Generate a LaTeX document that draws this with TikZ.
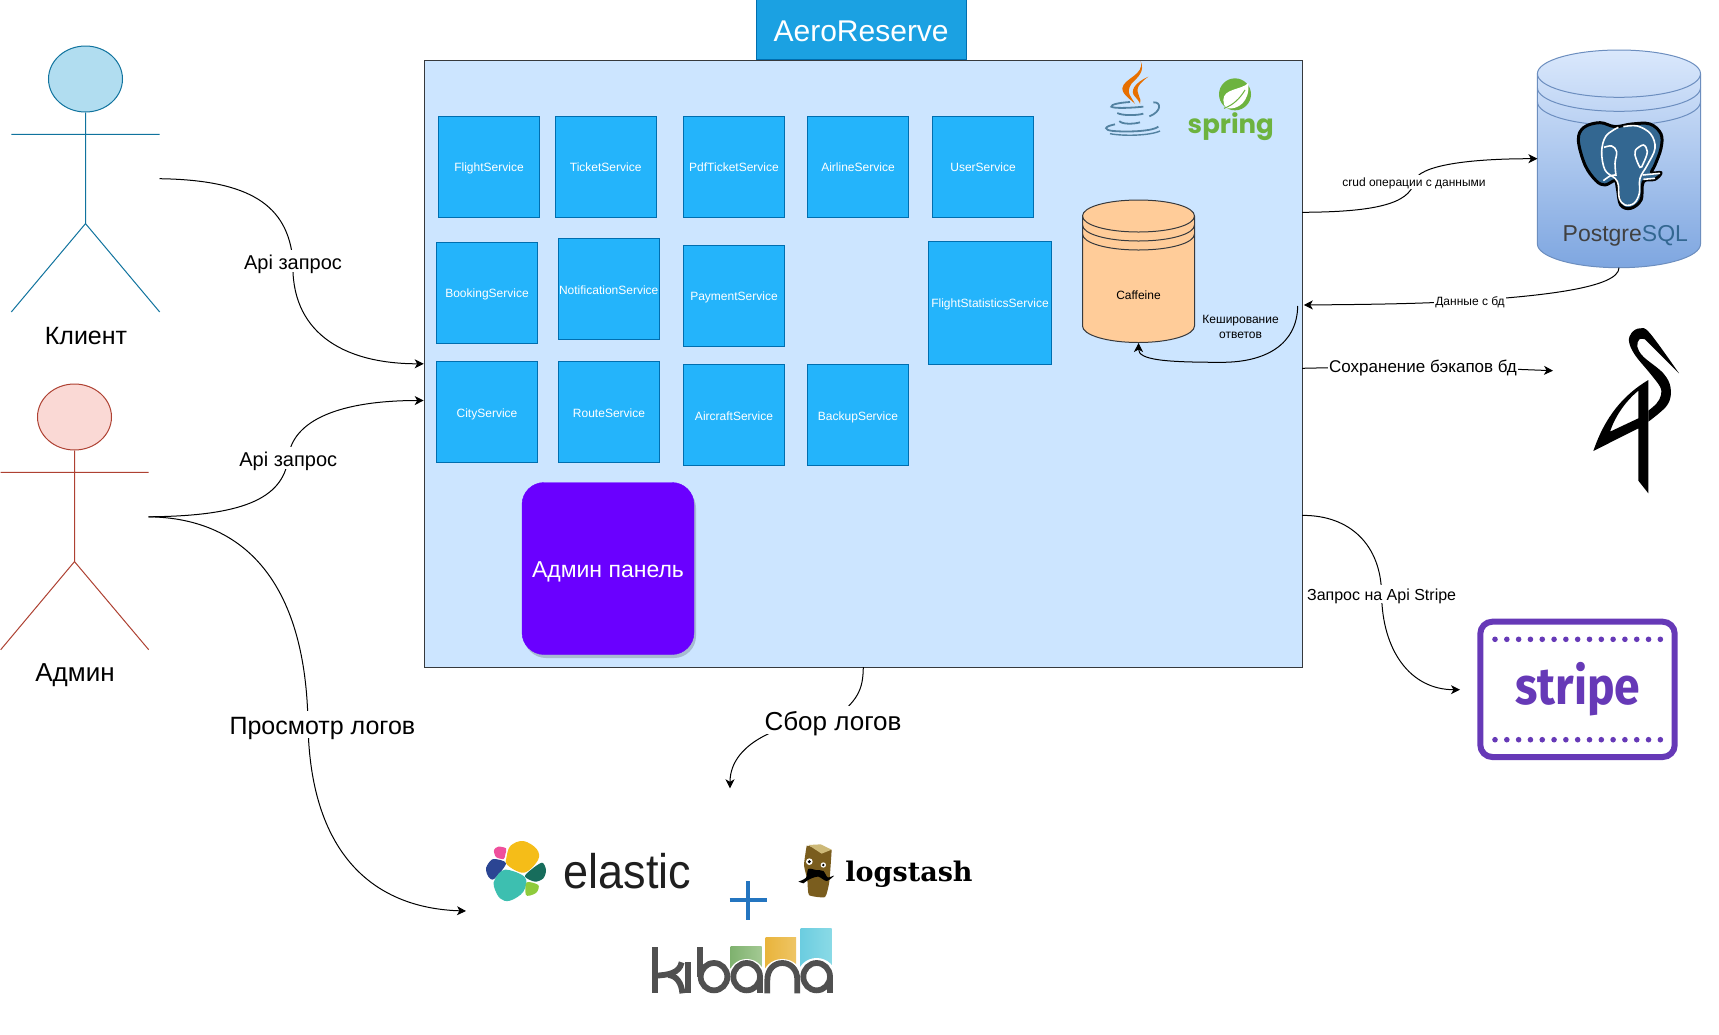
\documentclass[tikz,border=0pt]{standalone}
\usepackage{fontspec}
\setmainfont{Liberation Sans}
\newfontfamily\stripefont{Fira Sans}
\newfontfamily\slabfont{DejaVu Serif}
\newfontfamily\springfont{Poppins}
\usetikzlibrary{arrows.meta,shapes.geometric}
\definecolor{mainfill}{HTML}{CCE5FF}
\definecolor{mainline}{HTML}{36393D}
\definecolor{svcfill}{HTML}{24B4FB}
\definecolor{svcline}{HTML}{006EAF}
\definecolor{aerofill}{HTML}{1BA1E2}
\definecolor{adminfill}{HTML}{6A00FF}
\definecolor{cafffill}{HTML}{FFCC99}
\definecolor{pgline}{HTML}{6C8EBF}
\definecolor{pgtop}{HTML}{DAE8FC}
\definecolor{pgbot}{HTML}{7EA6E0}
\definecolor{pgblue}{HTML}{336791}
\definecolor{strcol}{HTML}{6639B7}
\definecolor{javablue}{HTML}{5382A1}
\definecolor{javaor}{HTML}{E76F00}
\definecolor{springg}{HTML}{6DB33F}
\definecolor{kibdark}{HTML}{505050}
\definecolor{elpink}{HTML}{EF4F9C}
\definecolor{elyel}{HTML}{F5BD18}
\definecolor{elblue}{HTML}{2B4593}
\definecolor{elteal}{HTML}{3DBFB0}
\definecolor{eldark}{HTML}{176D5C}
\definecolor{ellime}{HTML}{8FCB3C}
\definecolor{logbrown}{HTML}{7A5D1E}
\definecolor{logtop}{HTML}{CDB978}
\definecolor{plusblue}{HTML}{2475C0}
\definecolor{kgA}{HTML}{7FB26F}
\definecolor{kgB}{HTML}{A3C993}
\definecolor{kyA}{HTML}{E9B43C}
\definecolor{kyB}{HTML}{EEC565}
\definecolor{kcA}{HTML}{6CCDE0}
\definecolor{kcB}{HTML}{8ADAE6}
\definecolor{clfill}{HTML}{B1DDF0}
\definecolor{clline}{HTML}{10739E}
\definecolor{adfill}{HTML}{FAD9D5}
\definecolor{adline}{HTML}{AE4132}
\newcommand{\fsz}[1]{\fontsize{#1}{#1}\selectfont}
\tikzset{
  txt/.style={font=\fsz{#1},text height=0.9*#1pt,text depth=0.1*#1pt},
  svc/.style={draw=svcline,fill=svcfill,line width=1pt,text=white,inner sep=0pt,minimum width=101pt,minimum height=101pt,txt=12},
  conn/.style={draw=black,line width=1pt,-{Stealth[length=9pt,width=9pt,inset=2.5pt]}},
  lbl/.style={fill=white,inner sep=1pt,text=black},
  kib/.style={draw=kibdark,line width=5.8pt,line cap=butt},
  zoomed/.style={shift={#1},x=0.33333pt,y=-0.33333pt},
}
\begin{document}
\begin{tikzpicture}[x=1pt,y=-1pt]
\useasboundingbox (0,0) rectangle (1719,1034);
\fill[white] (0,0) rectangle (1719,1034);

% main container
\node[draw=mainline,fill=mainfill,line width=1pt,inner sep=0pt,minimum width=878.5pt,minimum height=607pt,anchor=north west] (main) at (423.7,60) {};
\node[draw=svcline,fill=aerofill,line width=1pt,inner sep=0pt,text=white,minimum width=209.7pt,minimum height=60pt,anchor=north west,txt=30] (aero) at (755.8,-0.8) {AeroReserve};

% services
\node[svc] (flight) at (489,166.6) {FlightService};
\node[svc] (ticket) at (605.7,166.6) {TicketService};
\node[svc] (pdf) at (734,166.6) {PdfTicketService};
\node[svc] (airline) at (858,166.6) {AirlineService};
\node[svc] (user) at (983,166.6) {UserService};
\node[svc] (booking) at (487,292.5) {BookingService};
\node[svc] (notif) at (608.7,289.3) {NotificationService};
\node[svc] (payment) at (734,295.5) {PaymentService};
\node[svc,minimum width=122.5pt,minimum height=123pt] (fstat) at (990,303) {FlightStatisticsService};
\node[svc] (city) at (487,412.3) {CityService};
\node[svc] (route) at (609,412.3) {RouteService};
\node[svc] (aircraft) at (734,415.3) {AircraftService};
\node[svc] (backup) at (858,415.3) {BackupService};

% admin panel
\fill[black,opacity=.18,rounded corners=22pt] (524,486) rectangle (696,658);
\node[draw=adminfill,fill=adminfill,rounded corners=22pt,minimum width=172pt,minimum height=172pt,inner sep=0pt,text=white,txt=23] (adminp) at (608,568.5) {Админ панель};

% caffeine cylinder
\draw[draw=mainline,fill=cafffill,line width=1pt] (1082.5,216) .. controls (1082.5,207) and (1107,200) .. (1138.5,200) .. controls (1170,200) and (1194.5,207) .. (1194.5,216) -- (1194.5,326) .. controls (1194.5,335) and (1170,342.5) .. (1138.5,342.5) .. controls (1107,342.5) and (1082.5,335) .. (1082.5,326) -- cycle;
\draw[mainline,line width=1pt] (1082.5,216) .. controls (1082.5,225) and (1107,232) .. (1138.5,232) .. controls (1170,232) and (1194.5,225) .. (1194.5,216);
\draw[mainline,line width=1pt] (1082.5,225) .. controls (1082.5,234) and (1107,241) .. (1138.5,241) .. controls (1170,241) and (1194.5,234) .. (1194.5,225);
\draw[mainline,line width=1pt] (1082.5,234) .. controls (1082.5,243) and (1107,250) .. (1138.5,250) .. controls (1170,250) and (1194.5,243) .. (1194.5,234);
\node[txt=12,inner sep=0pt] (caff) at (1138.5,294.5) {Caffeine};
\coordinate (caffb) at (1138.5,343);

% postgres cylinder
\shade[top color=pgtop,bottom color=pgbot,draw=pgline,line width=1pt] (1537.4,73.7) .. controls (1537.4,60.5) and (1574,50) .. (1619,50) .. controls (1664,50) and (1700.5,60.5) .. (1700.5,73.7) -- (1700.5,244) .. controls (1700.5,257) and (1664,267.7) .. (1619,267.7) .. controls (1574,267.7) and (1537.4,257) .. (1537.4,244) -- cycle;
\draw[pgline,line width=1pt] (1537.4,73.7) .. controls (1537.4,87) and (1574,97.3) .. (1619,97.3) .. controls (1664,97.3) and (1700.5,87) .. (1700.5,73.7);
\draw[pgline,line width=1pt] (1537.4,87.7) .. controls (1537.4,101) and (1574,111.3) .. (1619,111.3) .. controls (1664,111.3) and (1700.5,101) .. (1700.5,87.7);
\draw[pgline,line width=1pt] (1537.4,101.7) .. controls (1537.4,115) and (1574,125.3) .. (1619,125.3) .. controls (1664,125.3) and (1700.5,115) .. (1700.5,101.7);
\coordinate (pgl) at (1537.4,158.7);
\coordinate (pgb) at (1619,267.7);

% elephant
\begin{scope}[zoomed={(1560,110)}]
\filldraw[fill=pgblue,draw=black,line width=3pt,line join=round] plot[smooth cycle,tension=.6] coordinates {(55,90) (72,52) (120,38) (165,50) (215,42) (270,42) (303,72) (303,115) (285,165) (275,188) (303,188) (285,208) (250,215) (243,270) (212,295) (182,285) (172,235) (165,212) (135,225) (108,212) (75,165)};
\draw[white,line width=1.6pt,line join=round] plot[smooth,tension=.6] coordinates {(175,52) (138,78) (125,125) (135,180) (165,205) (175,225) (178,265) (195,285) (222,280) (238,250) (240,205) (262,165) (285,115) (272,72) (232,48) (190,50)};
\draw[white,line width=1.6pt] plot[smooth,tension=.6] coordinates {(132,112) (155,108) (170,125) (165,160) (168,198)};
\draw[white,line width=1.6pt] plot[smooth,tension=.6] coordinates {(228,118) (250,105) (262,125) (250,160) (240,172) (225,135) (228,118)};
\draw[white,line width=1.6pt] plot[smooth,tension=.6] coordinates {(130,212) (150,198) (165,195)};
\draw[white,line width=1.6pt] (248,195) -- (300,190) (250,208) -- (285,205);
\end{scope}
\node[anchor=base,font=\fsz{23},inner sep=0pt] (pgtext) at (1625.3,241.5) {\textcolor{black!75}{Postgre}\textcolor{pgblue}{SQL}};

% java logo
\begin{scope}[zoomed={(1090,55)}]
\fill[javaor] (152,18) .. controls (165,60) and (100,70) .. (97,100) .. controls (97,120) and (125,135) .. (135,147) .. controls (125,125) and (105,115) .. (125,85) .. controls (145,65) and (165,50) .. (152,18) -- cycle;
\fill[javaor] (175,65) .. controls (130,85) and (120,110) .. (135,125) .. controls (145,135) and (150,145) .. (150,147) .. controls (158,130) and (135,115) .. (145,95) .. controls (150,85) and (165,72) .. (175,65) -- cycle;
\draw[javablue,line width=1.8pt] (120,141) .. controls (90,143) and (62,148) .. (64,155) .. controls (70,160) and (110,160) .. (160,155);
\draw[javablue,line width=1.8pt] (82,174) .. controls (95,182) and (140,182) .. (160,176);
\draw[javablue,line width=1.8pt] (88,198) .. controls (95,208) and (130,208) .. (150,202);
\draw[javablue,line width=1.8pt] (75,208) .. controls (40,215) and (40,225) .. (70,228) .. controls (120,232) and (190,228) .. (205,215);
\draw[javablue,line width=1.4pt] (60,236) .. controls (100,244) and (180,242) .. (210,228);
\draw[javablue,line width=1.8pt] (190,142) .. controls (215,140) and (215,170) .. (178,184);
\end{scope}

% spring logo
\begin{scope}[zoomed={(1090,55)}]
\fill[springg] (435,118) circle[radius=48];
\fill[white] (475,84) .. controls (455,105) and (400,100) .. (400,135) .. controls (400,145) and (403,155) .. (410,160) .. controls (445,165) and (480,140) .. (475,84) -- cycle;
\draw[springg,line width=1pt] (402,160) .. controls (430,150) and (450,130) .. (465,105);
\end{scope}
\node[anchor=base,text=springg,font=\springfont\bfseries\fsz{26},inner sep=0pt] (springt) at (1230.8,133) {spring};

% minio bird
\begin{scope}[zoomed={(1580,320)}]
\fill[black] plot[smooth,tension=.6] coordinates {(297,160) (210,40) (180,25) (155,38) (147,65) (165,105) (210,160) (240,200) (243,225) (230,250) (205,272)} -- plot[smooth,tension=.6] coordinates {(205,305) (262,255) (272,205) (250,160) (190,110) (172,80) (178,58) (195,58)} -- cycle;
\fill[black,even odd rule] (205,180) .. controls (130,225) and (75,290) .. (40,393) -- (175,325) -- (175,482) -- (205,520) -- cycle (175,212) .. controls (135,245) and (105,290) .. (90,335) -- (175,295) -- cycle;
\end{scope}

% stripe
\draw[strcol,line width=6pt,rounded corners=12pt] (1480.3,621.7) rectangle (1674.7,757);
\foreach \i in {0,...,14}{
  \fill[strcol] (1495+\i*11.81,639.3) circle[radius=2.8];
  \fill[strcol] (1495+\i*11.81,739.7) circle[radius=2.8];
}
\node[anchor=base,text=strcol,font=\stripefont\bfseries\fsz{52},inner sep=0pt] (stripet) at (1578,704) {\scalebox{0.89}[1]{stripe}};

% elastic
\begin{scope}[zoomed={(480,835)}]
\fill[elpink] plot[smooth cycle,tension=.5] coordinates {(42,45) (55,35) (78,40) (76,58) (71,72) (48,66)};
\fill[elyel] plot[smooth cycle,tension=.6] coordinates {(92,32) (130,18) (170,42) (174,75) (132,113) (82,90) (80,65)};
\fill[elblue] plot[smooth cycle,tension=.5] coordinates {(22,90) (40,72) (78,85) (42,132) (25,125) (18,105)};
\fill[elteal] plot[smooth cycle,tension=.6] coordinates {(75,104) (135,127) (130,170) (90,197) (60,190) (42,155) (45,132)};
\fill[eldark] plot[smooth cycle,tension=.5] coordinates {(186,83) (198,105) (190,130) (165,140) (135,125) (152,105)};
\fill[ellime] plot[smooth cycle,tension=.5] coordinates {(140,142) (175,150) (170,172) (148,182) (137,178)};
\end{scope}
\node[anchor=base,text=black!88,font=\fsz{45},inner sep=0pt] (elastict) at (627.5,888) {\scalebox{1}[1.08]{elastic}};

% logstash
\begin{scope}[zoomed={(790,835)}]
\fill[logbrown] plot[smooth,tension=.3] coordinates {(50,32) (42,90) (52,135) (57,180) (105,186) (118,140) (125,45)} -- cycle;
\fill[logtop] (55,30) -- (92,28) -- (125,44) -- (95,56) -- cycle;
\fill[white] (58,80) circle[radius=10];
\fill[black] (58,80) circle[radius=5];
\fill[white] (100,90) circle[radius=8];
\fill[black] (100,90) circle[radius=4];
\fill[black] plot[smooth,tension=.5] coordinates {(25,140) (48,128) (55,102) (78,105) (100,108) (113,127) (132,122) (110,138) (85,125) (60,132) (40,145)} -- cycle;
\end{scope}
\node[anchor=base,font=\slabfont\bfseries\fsz{27},inner sep=0pt] (logstasht) at (909,881) {logstash};

% plus
\draw[plusblue,line width=4pt] (729.7,900) -- (766.9,900) (748,881) -- (748,920);

% kibana
\begin{scope}[zoomed={(640,925)}]
\shade[left color=kgA,right color=kgB] (272,65) rectangle (365,130);
\shade[left color=kyA,right color=kyB] (377,38) rectangle (468,130);
\shade[left color=kcA,right color=kcB] (482,10) rectangle (575,130);
\fill[white] (320,155) ellipse[x radius=54,y radius=53];
\fill[white] (427,155) ellipse[x radius=58,y radius=53];
\fill[white] (530,155) ellipse[x radius=58,y radius=56];
\fill[white] (568,120) rectangle (580,130);
\draw[kib] (45,66) -- (45,205);
\draw[kib] (45,152) .. controls (85,150) and (118,145) .. (125,112);
\draw[kib] (85,150) .. controls (110,152) and (125,175) .. (127,205);
\draw[kib] (143,112) -- (143,205);
\draw[kib] (180,66) -- (180,155);
\draw[kib] (222,155) ellipse[x radius=40,y radius=41];
\draw[kib] (320,155) ellipse[x radius=40,y radius=41];
\draw[kib] (360,155) -- (360,205);
\draw[kib] (382,205) -- (382,165) .. controls (382,97) and (472,97) .. (472,165) -- (472,205);
\draw[kib] (530,155) ellipse[x radius=40,y radius=41];
\draw[kib] (570,155) -- (570,205);
\end{scope}

% actors
\node[draw=clline,fill=clfill,line width=1pt,ellipse,inner sep=0pt,minimum width=74pt,minimum height=66pt] (clhead) at (85.5,79) {};
\coordinate (clhip) at (85.5,223.6);
\coordinate (clLa) at (11.3,134.3);
\coordinate (clRa) at (159.7,134.3);
\coordinate (clLl) at (11.3,312);
\coordinate (clRl) at (159.7,312);
\draw[clline,line width=1pt] (clhead.south) -- (clhip) (clLa) -- (clRa) (clLl) -- (clhip) -- (clRl);
\node[txt=25,inner sep=0pt] (cllbl) at (86,334) {Клиент};

\node[draw=adline,fill=adfill,line width=1pt,ellipse,inner sep=0pt,minimum width=74pt,minimum height=66pt] (adhead) at (74.5,417) {};
\coordinate (adhip) at (74.5,561.6);
\coordinate (adLa) at (0.7,472.3);
\coordinate (adRa) at (148.7,472.3);
\coordinate (adLl) at (0.7,649.7);
\coordinate (adRl) at (148.7,649.7);
\draw[adline,line width=1pt] (adhead.south) -- (adhip) (adLa) -- (adRa) (adLl) -- (adhip) -- (adRl);
\node[txt=26,inner sep=0pt] (adlbl) at (75,671.5) {Админ};

% connector end points
\coordinate (clout) at (159.5,178.7);
\coordinate (adout) at (148.5,516.8);
\coordinate (mainA) at (423.7,363.8);
\coordinate (mainB) at (423.7,400.5);
\coordinate (elkin) at (466,911);
\coordinate (mainC) at (1302.2,212.3);
\coordinate (mainD) at (1303.8,305);
\coordinate (cachest) at (1297.7,306);
\coordinate (mainE) at (1302.2,368.3);
\coordinate (minioin) at (1553,370.7);
\coordinate (mainF) at (1302.2,515.4);
\coordinate (stripein) at (1460,689.7);
\coordinate (mainG) at (863.3,667);
\coordinate (elkout) at (730,788.3);
\coordinate (l1) at (293,261);
\coordinate (l2) at (288.3,458);
\coordinate (l3) at (308,724);
\coordinate (l3t) at (322.4,724);
\coordinate (l4) at (1414,181.7);
\coordinate (l5) at (1470,300.7);
\coordinate (l6) at (1423,365.7);
\coordinate (l7) at (1381.6,594);
\coordinate (l8) at (833,720);

% connectors
\draw[conn] (clout) .. controls (250,180) and (288,205) .. (l1) .. controls (290,330) and (340,363.8) .. (mainA);
\draw[conn] (adout) .. controls (240,516) and (283,500) .. (l2) .. controls (292,420) and (340,400.5) .. (mainB);
\draw[conn] (adout) .. controls (250,518) and (306,590) .. (l3) .. controls (310,850) and (370,908) .. (elkin);
\draw[conn] (mainC) .. controls (1370,212) and (1410,205) .. (l4) .. controls (1418,165) and (1470,158.7) .. (pgl);
\draw[conn] (pgb) .. controls (1619,288) and (1540,296) .. (l5) .. controls (1420,304) and (1360,304.5) .. (mainD);
\draw[conn] (cachest) .. controls (1297,345) and (1265,362.3) .. (1222,362.3) .. controls (1165,362.3) and (1138.5,360) .. (caffb);
\draw[conn] (mainE) -- (l6) -- (minioin);
\draw[conn] (mainF) .. controls (1350,515) and (1381,545) .. (l7) .. controls (1382,650) and (1410,689.7) .. (stripein);
\draw[conn] (mainG) .. controls (863,690) and (858,700) .. (l8) .. controls (790,720) and (730,740) .. (elkout);

% connector labels
\node[lbl,txt=20] (t1) at (l1) {Api запрос};
\node[lbl,txt=20] (t2) at (l2) {Api запрос};
\node[lbl,txt=25] (t3) at (l3t) {Просмотр логов};
\node[lbl,txt=12] (t4) at (l4) {crud операции с данными};
\node[lbl,txt=12] (t5) at (l5) {Данные с бд};
\node[lbl,txt=17] (t6) at (l6) {Сохранение бэкапов бд};
\node[lbl,txt=16] (t7) at (l7) {Запрос на Api Stripe};
\node[lbl,txt=26] (t8) at (l8) {Сбор логов};
\node[font=\fontsize{12}{14.7}\selectfont,align=center,inner sep=0pt] (t9) at (1240.6,327) {Кеширование\\ответов};
\end{tikzpicture}
\end{document}
